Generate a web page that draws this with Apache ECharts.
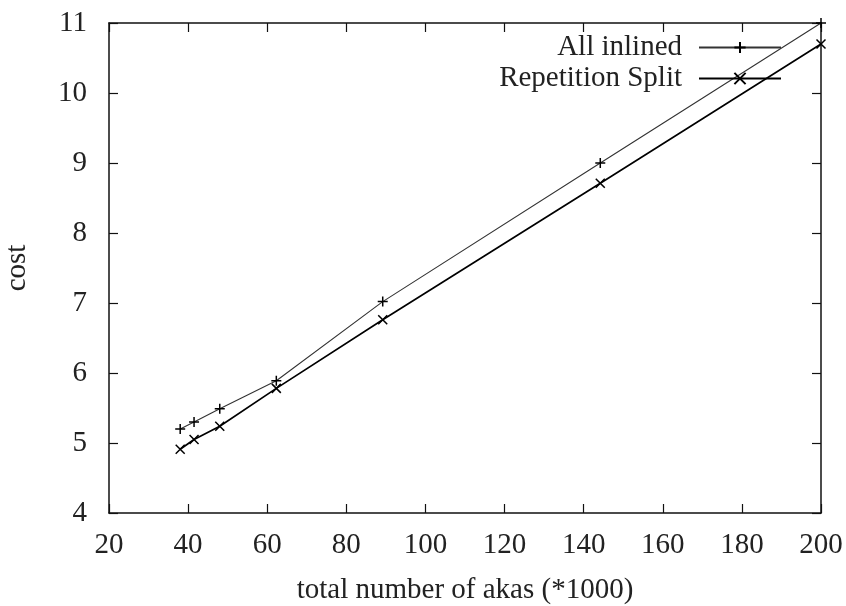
<!DOCTYPE html>
<html><head><meta charset="utf-8">
<script src="https://cdn.jsdelivr.net/npm/echarts@6/dist/echarts.min.js"></script>
<style>html,body{margin:0;padding:0;background:#fff}#c{width:846px;height:606px}</style>
</head><body><div id="c"></div>
<script>
const xTicks = [20, 40, 60, 80, 100, 120, 140, 160, 180, 200];
const yTicks = [4, 5, 6, 7, 8, 9, 10, 11];
const seriesNames = ["All inlined", "Repetition Split"];
const akas = [38, 41.5, 48, 62.3, 89.2, 144.2, 200];
const allInlined = [5.2, 5.3, 5.49, 5.89, 7.02, 9.0, 11.0];
const repetitionSplit = [4.91, 5.05, 5.24, 5.78, 6.76, 8.71, 10.7];

const plus = 'path://M0,5L10,5M5,0L5,10';
const cross = 'path://M0,0L10,10M10,0L0,10';
const font = 'Liberation Serif';
const fs = 29;
const chart = echarts.init(document.getElementById('c'));
const axisCommon = {
  axisLine: {lineStyle: {color: '#111', width: 1.5}},
  axisTick: {inside: true, length: 9, lineStyle: {color: '#111', width: 1.2}},
  splitLine: {show: false}
};
chart.setOption({
  animation: false,
  backgroundColor: '#fff',
  textStyle: {fontFamily: font},
  grid: {left: 109, right: 25, top: 23, bottom: 93, containLabel: false, outerBoundsMode: 'none'},
  legend: {
    orient: 'vertical', right: 59, top: 28, align: 'right',
    itemWidth: 82, itemHeight: 14, itemGap: 2,
    textStyle: {fontFamily: font, fontSize: fs, color: '#222', padding: [0, 12, 0, 0]},
    data: seriesNames
  },
  xAxis: [
    Object.assign({type: 'value', min: 20, max: 200, interval: 20,
      name: 'total number of akas (*1000)', nameLocation: 'middle', nameGap: 63,
      nameTextStyle: {fontFamily: font, fontSize: fs, color: '#222'},
      axisLabel: {fontFamily: font, fontSize: fs, color: '#222', margin: 18,
        formatter: v => xTicks.includes(v) ? String(v) : ''}}, axisCommon),
    Object.assign({type: 'value', position: 'top', min: 20, max: 200, interval: 20,
      axisLabel: {show: false}}, axisCommon)
  ],
  yAxis: [
    Object.assign({type: 'value', min: 4, max: 11, interval: 1,
      name: 'cost', nameLocation: 'middle', nameGap: 77, nameRotate: 90,
      nameTextStyle: {fontFamily: font, fontSize: fs, color: '#222'},
      axisLabel: {fontFamily: font, fontSize: fs, color: '#222', margin: 22,
        formatter: v => yTicks.includes(v) ? String(v) : ''}}, axisCommon),
    Object.assign({type: 'value', position: 'right', min: 4, max: 11, interval: 1,
      axisLabel: {show: false}}, axisCommon)
  ],
  series: [
    {name: seriesNames[0], type: 'line', data: akas.map((x, i) => [x, allInlined[i]]),
      symbol: plus, symbolSize: 10, showSymbol: true,
      lineStyle: {color: '#333', width: 1.1},
      itemStyle: {color: 'rgba(0,0,0,0)', borderColor: '#000', borderWidth: 1.5}},
    {name: seriesNames[1], type: 'line', data: akas.map((x, i) => [x, repetitionSplit[i]]),
      symbol: cross, symbolSize: 9, showSymbol: true,
      lineStyle: {color: '#000', width: 1.7},
      itemStyle: {color: 'rgba(0,0,0,0)', borderColor: '#000', borderWidth: 1.5}}
  ]
});
</script></body></html>
